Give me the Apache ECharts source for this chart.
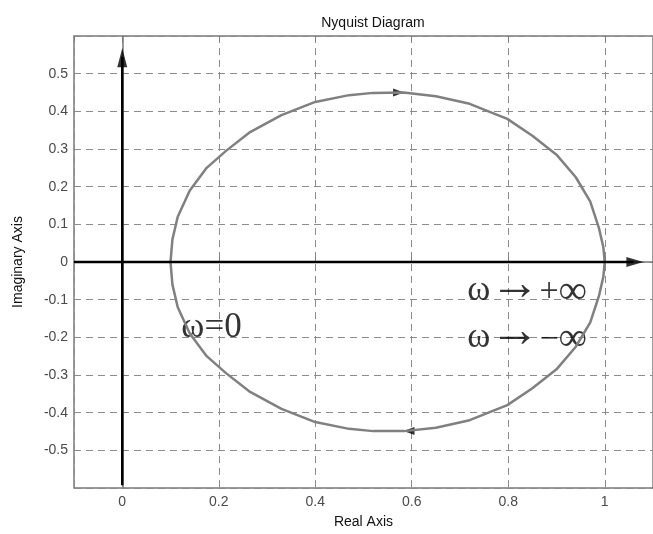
<!DOCTYPE html>
<html>
<head>
<meta charset="utf-8">
<script src="https://cdn.jsdelivr.net/npm/echarts@6/dist/echarts.min.js"></script>
<style>
  html, body { margin: 0; padding: 0; background: #fff; }
  #chart { width: 653px; height: 534px; }
</style>
</head>
<body>
<div id="chart"></div>
<script>
// Nyquist contour: upper half (ω from 0 to +∞), left to right
const upperRe = [0.100, 0.104, 0.115, 0.140, 0.175, 0.215, 0.265, 0.330, 0.400, 0.470, 0.520, 0.583, 0.650, 0.720, 0.798, 0.850, 0.900, 0.940, 0.970, 0.988, 0.997, 1.000];
const upperIm = [0.000, 0.060, 0.120, 0.190, 0.250, 0.295, 0.345, 0.390, 0.425, 0.443, 0.449, 0.450, 0.440, 0.420, 0.380, 0.335, 0.285, 0.225, 0.160, 0.090, 0.040, 0.000];
// lower half (ω from -∞ to 0), right to left
const lowerRe = [1.000, 0.997, 0.988, 0.970, 0.940, 0.900, 0.850, 0.798, 0.720, 0.650, 0.584, 0.520, 0.470, 0.400, 0.330, 0.265, 0.215, 0.175, 0.140, 0.115, 0.104, 0.100];
const lowerIm = [0.000, -0.040, -0.090, -0.160, -0.225, -0.285, -0.335, -0.380, -0.420, -0.440, -0.449, -0.449, -0.443, -0.425, -0.390, -0.345, -0.295, -0.250, -0.190, -0.120, -0.060, 0.000];

// direction arrows on the contour
const dirRight = [[0.583, 0.450]];
const dirLeft = [[0.584, -0.449]];

// coordinate axes drawn as arrows
const realShaft = [[-0.1, 0], [1.06, 0]];
const realTip = [[1.079, 0]];
const imagShaft = [[0, -0.593], [0, 0.545]];
const imagTip = [[0, 0.566]];

// annotations: start point, and the two limits ω → ±∞ (symbol, arrow, limit)
const startNote = ['ω=0'];
const startPos = [[0.185, -0.176]];
const omegaNotes = ['ω', 'ω'];
const omegaPos = [[0.739, -0.077], [0.739, -0.202]];
const arrowNotes = ['→', '→'];
const arrowPos = [[0.814, -0.063], [0.814, -0.188]];
const limitNotes = ['{w|+}{i|∞}', '{w|−}{i|∞}'];
const limitPos = [[0.914, -0.081], [0.914, -0.206]];

const xRange = [-0.1, 1.1];
const yRange = [-0.6, 0.6];

const contour = upperRe.map((x, i) => [x, upperIm[i]])
  .concat(lowerRe.map((x, i) => [x, lowerIm[i]]));

const frameColor = '#7a7a7a';
const sansFont = 'Liberation Sans, Arial, sans-serif';
const serifFont = 'Liberation Serif, Times New Roman, serif';
const labelFont = { color: '#4a4a4a', fontSize: 14, fontFamily: sansFont };

function textSeries(names, positions, label) {
  return {
    type: 'scatter', clip: false, symbolSize: 0, silent: true,
    data: names.map((t, i) => ({ name: t, value: positions[i] })),
    label: Object.assign({ show: true, position: 'inside', formatter: p => p.name, color: '#000' }, label)
  };
}

const chart = echarts.init(document.getElementById('chart'));
chart.setOption({
  animation: false,
  backgroundColor: '#fff',
  title: {
    text: 'Nyquist Diagram',
    left: 368,
    top: 11,
    textAlign: 'center',
    textStyle: { color: '#111', fontSize: 14, fontWeight: 'normal', fontFamily: sansFont }
  },
  grid: {
    left: 74, top: 36, width: 589, height: 452,
    show: true, borderColor: frameColor, borderWidth: 1.5, backgroundColor: 'transparent'
  },
  xAxis: [{
    type: 'value', min: xRange[0], max: xRange[1], splitNumber: 6,
    name: 'Real Axis', nameLocation: 'middle', nameGap: 27,
    nameTextStyle: { color: '#111', fontSize: 14, fontFamily: sansFont },
    axisLine: { show: true, lineStyle: { color: frameColor, width: 1.5 } },
    axisTick: { show: true, inside: true, length: 5, lineStyle: { color: frameColor } },
    axisLabel: Object.assign({ margin: 7, showMinLabel: false, showMaxLabel: false }, labelFont),
    splitLine: { show: true, lineStyle: { color: '#8c8c8c', type: [7, 5], width: 1 } }
  }, {
    type: 'value', position: 'top', min: xRange[0], max: xRange[1], splitNumber: 6,
    axisLine: { show: false },
    axisTick: { show: true, inside: true, length: 5, lineStyle: { color: frameColor } },
    axisLabel: { show: false },
    splitLine: { show: false }
  }],
  yAxis: {
    type: 'value', min: yRange[0], max: yRange[1], interval: 0.1,
    name: 'Imaginary Axis', nameLocation: 'middle', nameGap: 49,
    nameTextStyle: { color: '#111', fontSize: 14, fontFamily: sansFont },
    axisLine: { show: true, lineStyle: { color: frameColor, width: 1.5 } },
    axisTick: { show: true, inside: true, length: 5, lineStyle: { color: frameColor } },
    axisLabel: Object.assign({ margin: 6, showMinLabel: false, showMaxLabel: false }, labelFont),
    splitLine: { show: true, lineStyle: { color: '#8c8c8c', type: [7, 5], width: 1 } }
  },
  series: [
    {
      type: 'line', data: contour, showSymbol: false, symbol: 'none', clip: false,
      lineStyle: { color: '#808080', width: 2.5 }
    },
    {
      type: 'scatter', data: dirRight, clip: false,
      symbol: 'path://M0,0 L11,4 L0,8 Z', symbolSize: [11, 8], symbolOffset: [-5, 0],
      itemStyle: { color: '#000' }
    },
    {
      type: 'scatter', data: dirLeft, clip: false,
      symbol: 'path://M11,0 L0,4 L11,8 Z', symbolSize: [11, 8], symbolOffset: [5, 0],
      itemStyle: { color: '#000' }
    },
    {
      type: 'line', data: realShaft, showSymbol: false, symbol: 'none', clip: false,
      lineStyle: { color: '#000', width: 2.5 }
    },
    {
      type: 'line', data: imagShaft, showSymbol: false, symbol: 'none', clip: false,
      lineStyle: { color: '#000', width: 2.5 }
    },
    {
      type: 'scatter', data: realTip, clip: false,
      symbol: 'path://M0,0 L17,5 L0,10 Z', symbolSize: [17, 10], symbolOffset: [-8, 0],
      itemStyle: { color: '#000' }
    },
    {
      type: 'scatter', data: imagTip, clip: false,
      symbol: 'path://M5,0 L10,19 L0,19 Z', symbolSize: [10, 19], symbolOffset: [0, 9],
      itemStyle: { color: '#000' }
    },
    textSeries(startNote, startPos, { fontSize: 35, fontFamily: serifFont }),
    textSeries(omegaNotes, omegaPos, { fontSize: 35, fontFamily: serifFont }),
    textSeries(arrowNotes, arrowPos, { fontSize: 50, fontFamily: serifFont }),
    textSeries(limitNotes, limitPos, {
      rich: {
        w: { fontSize: 34, fontFamily: serifFont, color: '#000' },
        i: { fontSize: 40, fontFamily: serifFont, color: '#000' }
      }
    })
  ]
});
</script>
</body>
</html>
